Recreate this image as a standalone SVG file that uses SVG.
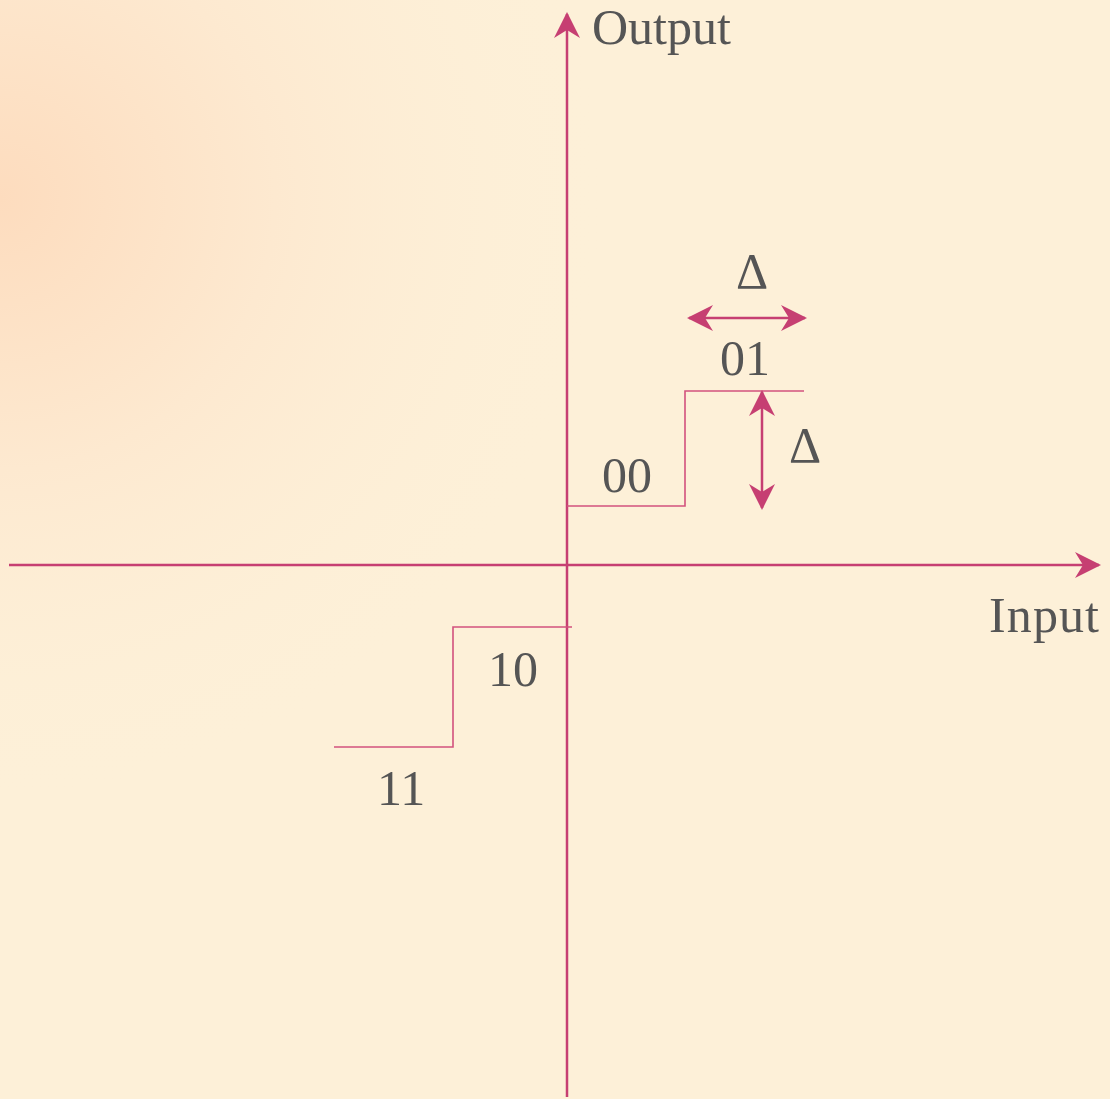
<svg xmlns="http://www.w3.org/2000/svg" width="1110" height="1099" viewBox="0 0 1110 1099">
<defs>
<radialGradient id="bg" cx="0" cy="0.18" r="0.55" gradientUnits="objectBoundingBox">
<stop offset="0" stop-color="#FDDCBE"/>
<stop offset="0.45" stop-color="#FDE9D0"/>
<stop offset="1" stop-color="#FDF0D8" stop-opacity="0"/>
</radialGradient>
<marker id="ah" viewBox="0 0 26 26" refX="24" refY="13" markerWidth="26" markerHeight="26" markerUnits="userSpaceOnUse" orient="auto-start-reverse">
<path d="M0,0 L26,13 L0,26 L8,13 Z" fill="#C63F72"/>
</marker>
<style>
.axis{stroke:#C63F72;stroke-width:2.5;fill:none}
.step{stroke:#D2527E;stroke-width:1.6;fill:none}
.dim{stroke:#C63F72;stroke-width:2.5;fill:none}
text{font-family:"Liberation Serif","DejaVu Serif",serif;fill:#555555}
.lbl{font-size:50px}
.delta{font-size:50px;text-anchor:middle}
</style>
</defs>
<rect width="1110" height="1099" fill="#FDF0D8"/>
<rect width="1110" height="1099" fill="url(#bg)"/>
<g id="connectors">
<line class="axis" x1="567" y1="1097" x2="567" y2="14" marker-end="url(#ah)"/>
<line class="axis" x1="9" y1="565" x2="1099" y2="565" marker-end="url(#ah)"/>
<polyline class="step" points="567,506 685,506 685,391 804,391"/>
<polyline class="step" points="572,627 453,627 453,747 334,747"/>
<line class="dim" x1="689" y1="318" x2="805" y2="318" marker-start="url(#ah)" marker-end="url(#ah)"/>
<line class="dim" x1="762" y1="392" x2="762" y2="508" marker-start="url(#ah)" marker-end="url(#ah)"/>
</g>
<g id="output-label"><text class="lbl" x="592" y="44">Output</text></g>
<g id="input-label"><text class="lbl" x="989" y="632" textLength="110">Input</text></g>
<g id="code-00"><text class="lbl" x="602" y="492">00</text></g>
<g id="code-01"><text class="lbl" x="720" y="375">01</text></g>
<g id="code-10"><text class="lbl" x="488" y="686">10</text></g>
<g id="code-11"><text class="lbl" x="377" y="805">11</text></g>
<g id="delta-h"><text class="delta" x="752" y="288">Δ</text></g>
<g id="delta-v"><text class="delta" x="805" y="462">Δ</text></g>
</svg>
